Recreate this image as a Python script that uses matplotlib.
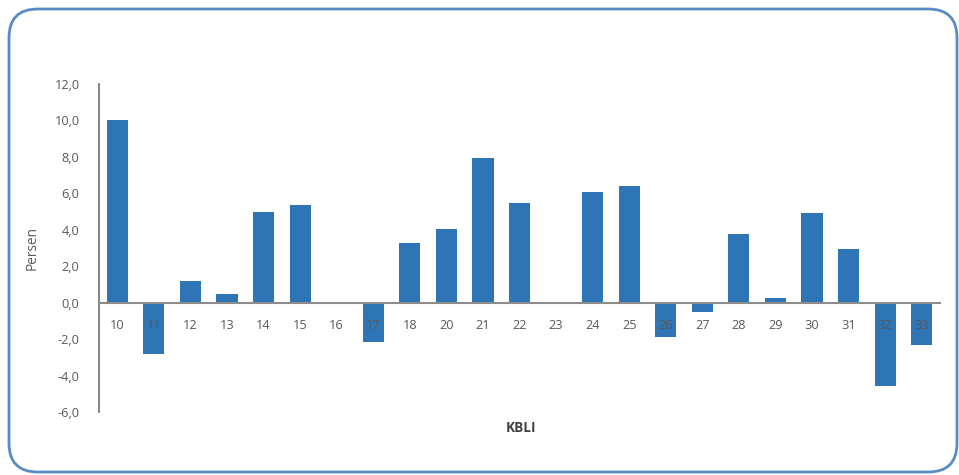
import matplotlib
matplotlib.use("Agg")
import matplotlib.pyplot as plt
from matplotlib.patches import FancyBboxPatch
from matplotlib.ticker import FixedLocator, FuncFormatter

categories = ["10", "11", "12", "13", "14", "15", "16", "17", "18", "20", "21", "22",
              "23", "24", "25", "26", "27", "28", "29", "30", "31", "32", "33"]
values = [10.0, -2.8, 1.2, 0.5, 4.95, 5.35, -0.1, -2.15, 3.3, 4.05, 7.95, 5.45,
          -0.05, 6.1, 6.4, -1.9, -0.5, 3.75, 0.27, 4.9, 2.95, -4.55, -2.3]
yticks = [-6, -4, -2, 0, 2, 4, 6, 8, 10, 12]

plt.rcParams['font.family'] = ['Open Sans', 'DejaVu Sans']

W, H = 959, 475
fig = plt.figure(figsize=(W / 100, H / 100), dpi=100)

# rounded frame
frame = FancyBboxPatch((9 / W, 3 / H), 948 / W, 463 / H,
                       boxstyle="round,pad=0,rounding_size=0.03",
                       transform=fig.transFigure, facecolor='none',
                       edgecolor='#5a8cc4', linewidth=2.0, zorder=0,
                       mutation_aspect=W / H)
fig.patches.append(frame)

ax = fig.add_axes([99 / W, (H - 412) / H, (940 - 99) / W, (412 - 84) / H])
ax.set_zorder(3)
ax.set_facecolor('none')
x = list(range(len(categories)))
ax.bar(x, values, width=0.58, color='#2e75b6', zorder=1)

ax.set_xlim(-0.5, len(categories) - 0.5)
ax.set_ylim(-6, 12)
ax.yaxis.set_major_locator(FixedLocator(yticks))
ax.yaxis.set_major_formatter(FuncFormatter(lambda v, p: f"{v:.1f}".replace('.', ',')))
ax.set_xticks(x)
ax.set_xticklabels(categories)

for s in ['top', 'right']:
    ax.spines[s].set_visible(False)
ax.spines['bottom'].set_position(('data', 0))
ax.spines['bottom'].set_color('#8c8c8c')
ax.spines['bottom'].set_linewidth(1.5)
ax.spines['left'].set_color('#6e6e6e')
ax.spines['left'].set_linewidth(1.2)

ax.tick_params(axis='both', length=0, labelsize=9.2, labelcolor='#595959')
ax.tick_params(axis='x', pad=12)
ax.tick_params(axis='y', pad=14)

ax.set_ylabel("Persen", fontsize=9.8, color='#595959', labelpad=11)
fig.text(521 / W, 1 - 428 / H, "KBLI", fontsize=9.8, fontweight='bold',
         color='#404040', ha='center', va='center')

fig.savefig("out.png", dpi=100, facecolor='white')
